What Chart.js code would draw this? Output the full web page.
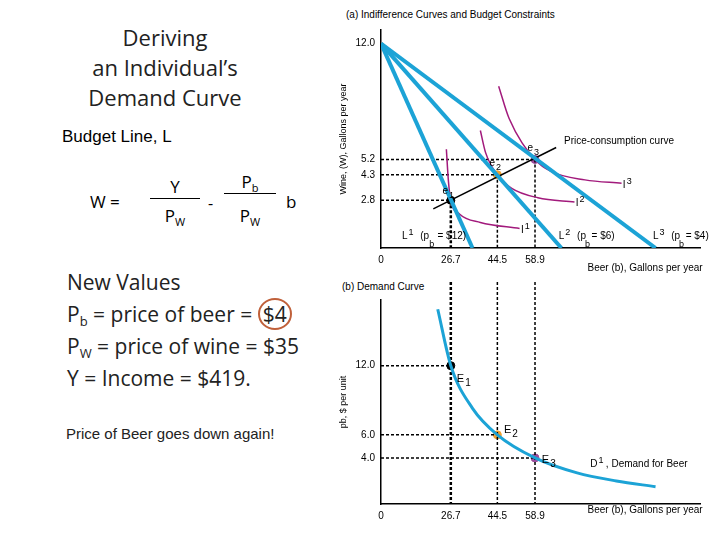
<!DOCTYPE html>
<html><head><meta charset="utf-8">
<script src="https://cdn.jsdelivr.net/npm/chart.js@4"></script>
<style>
body{margin:0;width:720px;height:540px;background:#fff;position:relative;overflow:hidden;font-family:"Liberation Sans",Arial,sans-serif}
.t{position:absolute;white-space:nowrap}
.serif{font-family:"Open Sans",sans-serif}
sub{vertical-align:-4px;line-height:0}
canvas{position:absolute}
</style></head><body>
<div class="t serif" style="left:60px;top:22px;width:210px;text-align:center;font-size:22px;line-height:30px;color:#222">Deriving<br>an Individual’s<br>Demand Curve</div>
<div class="t" style="left:62px;top:127px;font-size:17px">Budget Line, L</div>
<div class="t serif" style="left:90px;top:190px;font-size:17px">W =</div>
<div class="t serif" style="left:150px;top:175px;width:50px;text-align:center;font-size:17px;border-bottom:1px solid #000">Y</div>
<div class="t serif" style="left:150px;top:204px;width:50px;text-align:center;font-size:17px">P<sub style="font-size:11px">W</sub></div>
<div class="t serif" style="left:208px;top:192px;font-size:16px">-</div>
<div class="t serif" style="left:224px;top:170px;width:52px;text-align:center;font-size:17px;border-bottom:1px solid #000">P<sub style="font-size:11px">b</sub></div>
<div class="t serif" style="left:224px;top:204px;width:52px;text-align:center;font-size:17px">P<sub style="font-size:11px">W</sub></div>
<div class="t serif" style="left:286px;top:190px;font-size:17px">b</div>
<div class="t serif" style="left:67px;top:266px;font-size:21px;line-height:32px;color:#222">New Values<br>P<sub style="font-size:13px">b</sub> = price of beer = <span style="border:2px solid #c0603a;border-radius:50%;padding:0 3px">$4</span><br>P<sub style="font-size:13px">W</sub> = price of wine = $35<br>Y = Income = $419.</div>
<div class="t" style="left:66px;top:425px;font-size:15px;color:#222">Price of Beer goes down again!</div>
<div class="t" style="left:346px;top:9px;font-size:10px">(a) Indifference Curves and Budget Constraints</div>
<div class="t" style="left:342px;top:281px;font-size:10px">(b) Demand Curve</div>
<canvas id="c1" style="left:330px;top:0"></canvas>
<canvas id="c2" style="left:330px;top:280px"></canvas>
<script>
// ---- data ----
const beerTicks=[0,26.7,44.5,58.9];
const wineTicks=[2.8,4.3,5.2,12.0];
const priceTicks=[4.0,6.0,12.0];
const eqBeer=[26.7,44.5,58.9];
const eqWine=[2.8,4.3,5.2];
const eqPrice=[12,6,4];
const eqColors=['#000000','#f0a030','#9b4a9b'];
const budgetIntercepts=[35,69,105];
const wineMax=12;
const I1=[[25,5.8],[25.8,3.9],[26.7,2.8],[30,2.0],[38,1.5],[53,1.15]];
const I2=[[38,6.9],[40,5.6],[44.5,4.3],[50,3.5],[60,2.95],[74,2.7]];
const I3=[[45,9.5],[49,7.6],[58.9,5.2],[65,4.5],[78,4.0],[92,3.8]];
const pcc=[[20,2.3],[67,5.9]];
const demand=[[21.7,16.9],[26.7,12],[35,8.3],[44.5,6],[58.9,4],[75,2.7],[90,2.0],[105,1.5]];

const pts=a=>a.map(p=>({x:p[0],y:p[1]}));
const labelPlugin={id:'lbl',afterDatasetsDraw(ch){
  const L=ch.options.plugins.lbl.items,ctx=ch.ctx,xs=ch.scales.x,ys=ch.scales.y;
  ctx.save();ctx.fillStyle='#000';ctx.textBaseline='alphabetic';
  L.forEach(([t,sub,x,y,fs,mode])=>{
    const px=xs.getPixelForValue(x),py=ys.getPixelForValue(y);
    ctx.font=fs+'px "Liberation Sans",Arial';ctx.fillText(t,px,py);
    if(sub){const w=ctx.measureText(t).width;ctx.font=(fs-1)+'px "Liberation Sans",Arial';
      ctx.fillText(sub,px+w+1,py+(mode==='sup'?-4:4));}
  });ctx.restore();}};
function dash(a,w){return{type:'line',data:pts(a),borderColor:'#000',borderWidth:w||1.5,borderDash:[3,2],pointRadius:0,fill:false,clip:false}}
const tickFont={size:10,family:'"Liberation Sans",Arial'};

// ---- chart 1 ----
const ds1=[];
budgetIntercepts.forEach(b=>ds1.push({type:'line',data:pts([[0,wineMax],[b,0]]),borderColor:'#1ca3d6',borderWidth:4,pointRadius:0}));
[I1,I2,I3].forEach(c=>ds1.push({type:'line',data:pts(c),borderColor:'#a21a7c',borderWidth:1.5,pointRadius:0,cubicInterpolationMode:'monotone'}));
ds1.push({type:'line',data:pts(pcc),borderColor:'#000',borderWidth:1.5,pointRadius:0});
eqBeer.forEach((b,i)=>{ds1.push(dash([[0,eqWine[i]],[b,eqWine[i]]]));ds1.push(dash([[b,eqWine[i]],[b,0]],i===0?2.5:1.5));});
ds1.push({type:'scatter',data:eqBeer.map((b,i)=>({x:b,y:eqWine[i]})),pointBackgroundColor:eqColors,pointBorderColor:eqColors,pointRadius:4});
const c1=document.getElementById('c1');c1.width=390;c1.height=280;
new Chart(c1,{data:{datasets:ds1},plugins:[labelPlugin],options:{responsive:false,animation:false,
 layout:{padding:{top:30,right:20}},
 plugins:{legend:{display:false},tooltip:{enabled:false},lbl:{items:[
  ['e','1',23.5,3.2,10],['e','2',41.5,4.8,10],['e','3',56,5.7,10],
  ['I','1',53.5,0.9,10,'sup'],['I','2',74.5,2.45,10,'sup'],['I','3',92.5,3.55,10,'sup'],
  ['Price-consumption curve','',70,6.1,10],
  ['L','1',8,0.5,10,'sup'],['(p   = $12)','',15,0.5,10],['L','2',68,0.5,10,'sup'],['(p  = $6)','',75,0.5,10],['L','3',104,0.5,10,'sup'],['(p  = $4)','',111,0.5,10],
  ['b','',18.5,0.05,9],['b','',78,0.05,9],['b','',114,0.05,9],
  ['Beer (b), Gallons per year','',79,-1.35,10]]}},
 scales:{x:{type:'linear',min:0,max:122,grid:{display:false,drawTicks:false},border:{color:'#000',width:1.5},
   afterBuildTicks(s){s.ticks=beerTicks.map(v=>({value:v}))},ticks:{font:tickFont,color:'#000',padding:6,callback:v=>v===0?'0':v.toFixed(1)},
   afterFit(s){s.height=32}},
  y:{type:'linear',min:0,max:12.8,grid:{display:false,drawTicks:false},border:{color:'#000',width:1.5},
   afterBuildTicks(s){s.ticks=wineTicks.map(v=>({value:v}))},ticks:{font:tickFont,color:'#000',padding:6,callback:v=>v.toFixed(1)},
   title:{display:true,text:'Wine, (W), Gallons per year',font:{size:9},color:'#000',padding:{top:8,bottom:0}},
   afterFit(s){s.width=51}}}}});

// ---- chart 2 ----
const ds2=[{type:'line',data:pts(demand),borderColor:'#1ca3d6',borderWidth:3,pointRadius:0,cubicInterpolationMode:'monotone'}];
eqBeer.forEach((b,i)=>{ds2.push(dash([[0,eqPrice[i]],[b,eqPrice[i]]]));ds2.push(dash([[b,22.3],[b,0]],i===0?2.5:1.5));});
ds2.push({type:'scatter',data:eqBeer.map((b,i)=>({x:b,y:eqPrice[i]})),pointBackgroundColor:eqColors,pointBorderColor:eqColors,pointRadius:4});
const c2=document.getElementById('c2');c2.width=390;c2.height=260;
new Chart(c2,{data:{datasets:ds2},plugins:[labelPlugin],options:{responsive:false,animation:false,
 layout:{padding:{top:20,right:20}},
 plugins:{legend:{display:false},tooltip:{enabled:false},lbl:{items:[
  ['E','1',29,10.6,11],['E','2',47,6.2,11],['E','3',61.5,3.6,11],
  ['D','1',80,3.2,10,'sup'],[', Demand for Beer','',86,3.2,10],
  ['Beer (b), Gallons per year','',79,-0.8,10]]}},
 scales:{x:{type:'linear',min:0,max:122,grid:{display:false,drawTicks:false},border:{color:'#000',width:1.5},
   afterBuildTicks(s){s.ticks=beerTicks.map(v=>({value:v}))},ticks:{font:tickFont,color:'#000',padding:6,callback:v=>v===0?'0':v.toFixed(1)},
   afterFit(s){s.height=36}},
  y:{type:'linear',min:0,max:17.7,grid:{display:false,drawTicks:false},border:{color:'#000',width:1.5},
   afterBuildTicks(s){s.ticks=priceTicks.map(v=>({value:v}))},ticks:{font:tickFont,color:'#000',padding:6,callback:v=>v.toFixed(1)},
   title:{display:true,text:'pb, $ per unit',font:{size:9},color:'#000',padding:{top:8,bottom:0}},
   afterFit(s){s.width=51}}}}});
</script></body></html>
